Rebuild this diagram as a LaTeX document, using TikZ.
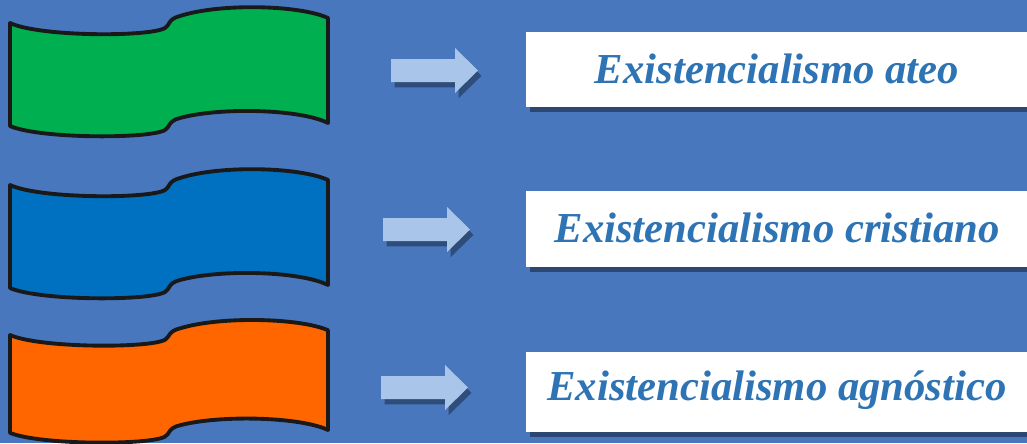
\documentclass[tikz,border=0pt]{standalone}
\usepackage{fontspec}
\setmainfont{Liberation Serif}
\usepackage{tikz}
\usetikzlibrary{shadows}

\definecolor{fondo}{RGB}{72,119,190}
\definecolor{verde}{RGB}{0,176,80}
\definecolor{azul}{RGB}{0,112,192}
\definecolor{naranja}{RGB}{255,102,0}
\definecolor{flecha}{RGB}{169,198,234}
\definecolor{letra}{RGB}{46,116,181}

% banda ondulada: x, y (esquina sup. izq.), color, escala vertical
\newcommand{\banda}[4]{%
	\filldraw[banda, fill=#3, shift={(#1,#2)}, yscale=#4] (0,0) .. controls (30,14) and (140,14) .. (155,5)
		.. controls (160,2) and (158,-4) .. (170,-7) .. controls (210,-20) and (290,-18) .. (318,-5)
		-- (318,100) .. controls (290,86) and (210,84) .. (170,95) .. controls (158,98) and (160,104) .. (155,107)
		.. controls (140,116) and (30,116) .. (0,103) -- cycle;}
% flecha gruesa: x, y (cola)
\newcommand{\flechita}[2]{%
	\fill[flechasty, shift={(#1,#2)}] (0,-11.5) -- (64,-11.5) -- (64,-22.5) -- (87,0) -- (64,22.5) -- (64,11.5) -- (0,11.5) -- cycle;}

\begin{document}
\begin{tikzpicture}[x=0.02cm, y=-0.02cm,
	banda/.style={draw=black!90, line width=2.2pt, line join=round},
	flechasty/.style={fill=flecha, drop shadow={shadow xshift=2pt, shadow yshift=-3pt, opacity=0.35, fill=black}},
	caja/.style={fill=white, minimum width=10.04cm, inner sep=0pt, text height=0.6cm,
		text=letra, font=\fontsize{24.3}{28}\selectfont\bfseries\itshape,
		drop shadow={shadow xshift=2pt, shadow yshift=-3pt, opacity=0.4, fill=black}}]
	\useasboundingbox (0,0) rectangle (1027,443);
	\clip (0,0) rectangle (1027,443);
	\fill[fondo] (0,0) rectangle (1027,443);
	\banda{10}{23}{verde}{1}
	\banda{10}{185}{azul}{1}
	\banda{10}{335}{naranja}{0.95}
	\flechita{391}{70.5}
	\flechita{383}{229.5}
	\flechita{381}{387.5}
	\node[caja, minimum height=1.5cm, text depth=0.06cm] (ateo) at (777,69.5) {Existencialismo ateo};
	\node[caja, minimum height=1.52cm, text depth=0.08cm] (cristiano) at (777,229) {Existencialismo cristiano};
	\node[caja, minimum height=1.6cm, text depth=0.28cm] (agnostico) at (777,392) {Existencialismo agnóstico};
\end{tikzpicture}
\end{document}
